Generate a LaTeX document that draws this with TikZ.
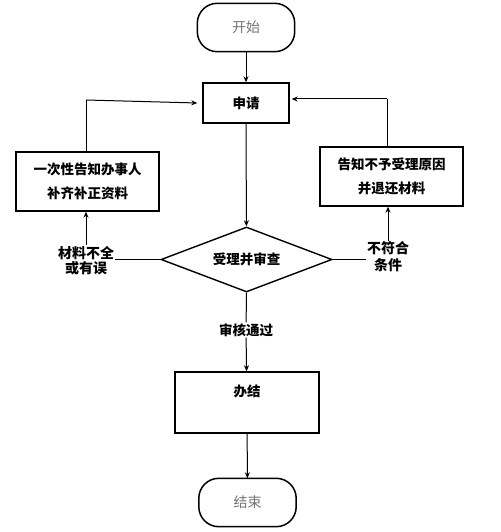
\documentclass[tikz,border=0pt]{standalone}
\usepackage{fontspec}
\newfontfamily\cjk{Noto Sans CJK SC}
\usetikzlibrary{shapes.geometric,arrows.meta}
\begin{document}
\begin{tikzpicture}[x=1pt,y=-1pt,
  every node/.style={font=\cjk\fontsize{13.5}{16}\selectfont},
  box/.style={draw=black,line width=1.4pt,minimum height=#1,inner sep=0pt},
  term/.style={minimum width=97pt,minimum height=48pt,inner sep=0pt,text=black!55,font=\cjk\fontsize{14}{16}\selectfont},
  termline/.style={draw=black,line width=1.5pt,rounded corners=20pt},
  lab/.style={font=\cjk\bfseries\fontsize{13.5}{16}\selectfont,align=center},
  arr/.style={draw=black,line width=1pt,-{Stealth[length=6pt,width=5pt]}},
  ln/.style={draw=black,line width=1pt}]
\useasboundingbox (0,0) rectangle (500,532);
\fill[white] (0,0) rectangle (500,532);
\node[term] (start) at (246,27.5) {开始};
\node[term] (end) at (247.5,502.5) {结束};
\draw[termline] (start.north west) rectangle (start.south east);
\draw[termline] (end.north west) rectangle (end.south east);
\node[box=40pt,minimum width=86pt,lab] (apply) at (246,103) {申请};
\node[box=59pt,minimum width=143pt,lab,font=\cjk\bfseries\fontsize{13.5}{24}\selectfont] (left) at (87.5,181.5) {一次性告知办事人\\补齐补正资料};
\node[box=59pt,minimum width=143pt,lab,font=\cjk\bfseries\fontsize{13.5}{24}\selectfont] (right) at (391.5,176.5) {告知不予受理原因\\并退还材料};
\node[draw=black,line width=1.4pt,diamond,aspect=2.63,inner sep=0pt,minimum width=171pt,minimum height=65pt,lab] (check) at (246.5,259.5) {受理并审查};
\node[lab,font=\cjk\bfseries\fontsize{14}{15}\selectfont,inner sep=1pt] (nl) at (86,260.5) {材料不全\\或有误};
\node[lab,font=\cjk\bfseries\fontsize{14}{17}\selectfont,inner sep=1pt] (nr) at (388,257) {不符合\\条件};
\node[lab,inner sep=1pt] (pass) at (246,330) {审核通过};
\node[box=61pt,minimum width=144pt,lab] (done) at (247,402.5) {};
\node[lab] (donet) at (247,391) {办结};
\coordinate (cl) at (86,100);
\coordinate (cr) at (387,99);
\draw[arr] (start) -- (apply);
\draw[arr] (apply) -- (check);
\draw[ln] (check.south) -- (pass);
\draw[arr] (pass) -- (done);
\draw[arr] (done) -- (end);
\draw[ln] (check.west) -- (nl.east |- check.west);
\draw[ln] (check.east) -- (nr.west |- check.east);
\draw[arr] (nl.north -| left.south) ++(-1.5,0) -- ([xshift=-1.5pt]left.south);
\draw[arr] (nr.north) -- (nr.north |- right.south);
\draw[ln] (left.north -| cl) -- (cl);
\draw[arr] (cl) -- ([xshift=-5pt]apply.west);
\draw[ln] (right.north -| cr) -- (cr);
\draw[arr] (cr) -- ([xshift=2pt]apply.east |- cr);
\end{tikzpicture}
\end{document}
